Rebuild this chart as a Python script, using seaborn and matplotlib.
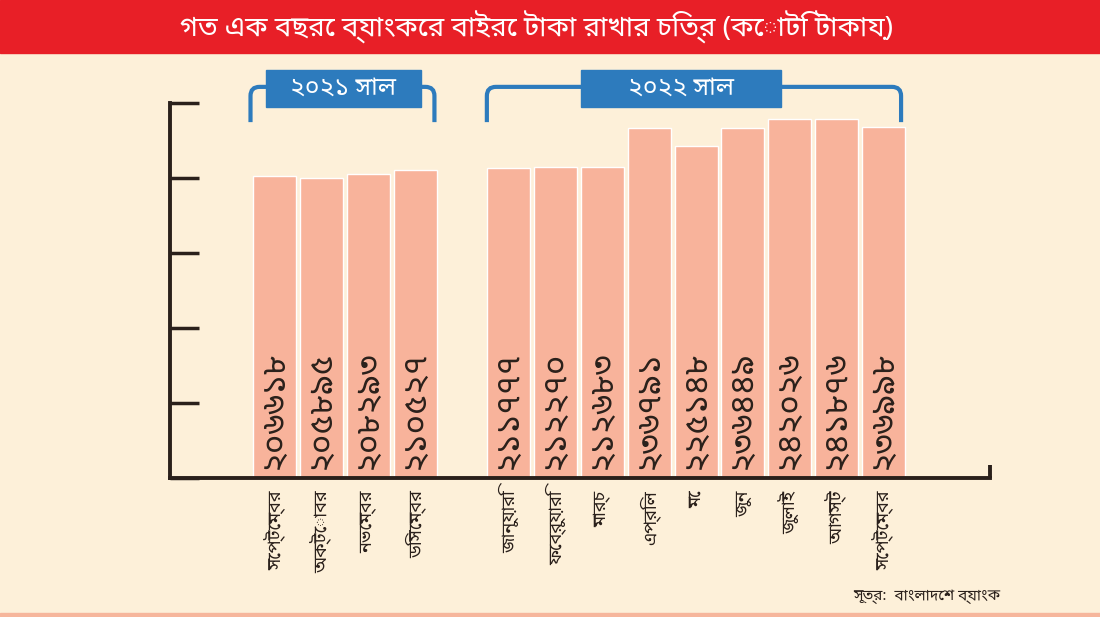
import numpy as np
import pandas as pd
import seaborn as sns
import matplotlib.pyplot as plt
from matplotlib import font_manager
from matplotlib.path import Path
from matplotlib.patches import PathPatch, Rectangle
from matplotlib.transforms import blended_transform_factory

# data (crore taka)
years = ["২০২১"] * 4 + ["২০২২"] * 9
months = ["সেপ্টেম্বর", "অক্টোবর", "নভেম্বর", "ডিসেম্বর",
          "জানুয়ারি", "ফেব্রুয়ারি", "মার্চ", "এপ্রিল", "মে", "জুন",
          "জুলাই", "আগস্ট", "সেপ্টেম্বর"]
values = [206618, 205895, 208293, 210527,
          211777, 212270, 212683, 236791, 225148, 236449,
          242026, 241876, 236998]
value_labels = ["২০৬৬১৮", "২০৫৮৯৫", "২০৮২৯৩", "২১০৫২৭",
                "২১১৭৭৭", "২১২২৭০", "২১২৬৮৩", "২৩৬৭৯১", "২২৫১৪৮", "২৩৬৪৪৯",
                "২৪২০২৬", "২৪১৮৭৬", "২৩৬৯৯৮"]
year_titles = ["২০২১ সাল", "২০২২ সাল"]
title = "গত এক বছরে ব্যাংকের বাইরে টাকা রাখার চিত্র (কোটি টাকায়)"
source = "সূত্র:  বাংলাদেশ ব্যাংক"

BG = "#fdf0d9"
RED = "#e81f27"
BAR = "#f8b39b"
BLUE = "#2d7bbd"
INK = "#2a201b"

sns.set_style("ticks")
names = {f.name for f in font_manager.fontManager.ttflist}
bengali = [n for n in ["Noto Sans Bengali", "Noto Serif Bengali", "Lohit Bengali",
                       "FreeSans", "Mukti Narrow", "Hind Siliguri", "Kalpurush",
                       "SolaimanLipi", "Vrinda", "Nirmala UI"] if n in names]
plt.rcParams['font.family'] = bengali + ['DejaVu Sans']

df = pd.DataFrame({"year": years, "month": months, "value": values})
df["key"] = df["year"] + "-" + df["month"]
keys = list(df["key"])
order = keys[:4] + ["gap"] + keys[4:]

fig = plt.figure(figsize=(11, 6.17), dpi=100, facecolor=BG)
ax = fig.add_axes([170 / 1100, 139 / 617, 820 / 1100, 375 / 617])
ax.set_facecolor(BG)

sns.barplot(data=df, x="key", y="value", order=order, color=BAR,
            width=0.92, saturation=1, ax=ax)

ax.set_xlim(-2.24, 15.28)
ax.set_ylim(20000, 252000)
ax.set_yticks(np.linspace(20000, 252000, 6))
ax.set_yticklabels([])
ax.tick_params(axis="y", direction="in", length=21, width=2.5, color=INK)
ax.tick_params(axis="x", length=0, pad=9)
ax.set_xticks(range(len(order)))
ax.set_xticklabels(months[:4] + [""] + months[4:], rotation=90,
                   fontsize=13, color=INK, va="top")
ax.set_xlabel("")
ax.set_ylabel("")
sns.despine(ax=ax)
for s in ["left", "bottom"]:
    ax.spines[s].set_color(INK)
    ax.spines[s].set_linewidth(2.8)
ax.plot([1, 1], [0, 0.035], transform=ax.transAxes, color=INK,
        lw=2.8, clip_on=False, solid_capstyle="butt")

# value labels inside the bars
bt = blended_transform_factory(ax.transData, ax.transAxes)
for pos, lab in zip([order.index(k) for k in keys], value_labels):
    ax.text(pos, 0.022, lab, transform=bt, rotation=90, ha="center",
            va="bottom", fontsize=24, fontweight="bold", color=INK)

# banner, title, source, bottom strip
fig.patches.append(Rectangle((0, 1 - 53 / 617), 1, 53 / 617,
                             transform=fig.transFigure, color=RED, zorder=0))
fig.patches.append(Rectangle((0, 0), 1, 4 / 617,
                             transform=fig.transFigure, color="#f6b69c", zorder=0))
fig.text(536 / 1100, 1 - 27 / 617, title, ha="center", va="center",
         color="white", fontsize=20)
fig.text(1000 / 1100, 1 - 597 / 617, source, ha="right", va="center",
         color=INK, fontsize=11)

# year brackets
fig.canvas.draw()


def bracket(x0, x1, bx, bw, text):
    p0 = bt.transform((x0, 1.043))
    p1 = bt.transform((x1, 1.043))
    yb = bt.transform((x0, 0.949))[1]
    yt, r = p0[1], 9
    verts = [(p0[0], yb), (p0[0], yt - r), (p0[0], yt), (p0[0] + r, yt),
             (p1[0] - r, yt), (p1[0], yt), (p1[0], yt - r), (p1[0], yb)]
    codes = [Path.MOVETO, Path.LINETO, Path.CURVE3, Path.CURVE3,
             Path.LINETO, Path.CURVE3, Path.CURVE3, Path.LINETO]
    fig.patches.append(PathPatch(Path(verts, codes), fill=False, ec=BLUE,
                                 lw=3, transform=None))
    c = bt.transform((bx, 1.0385))
    fig.patches.append(Rectangle((c[0] - bw / 2, c[1] - 18.5), bw, 37,
                                 transform=None, color=BLUE, zorder=3))
    fig.text(c[0] / 1100, c[1] / 617, text, ha="center", va="center",
             color="white", fontsize=18, zorder=4)


bracket(-0.52, 3.41, 1.46, 155, year_titles[0])
bracket(4.53, 13.38, 8.68, 200, year_titles[1])

fig.savefig("out.png", dpi=100, facecolor=BG)
